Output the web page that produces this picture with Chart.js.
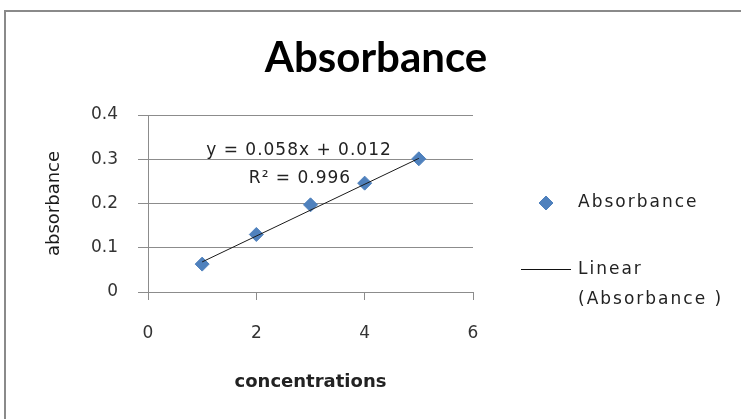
<!DOCTYPE html>
<html><head><meta charset="utf-8">
<script src="https://cdn.jsdelivr.net/npm/chart.js@4"></script>
<style>html,body{margin:0;padding:0;background:#fff}#wrap{width:741px;height:419px}</style>
</head><body><div id="wrap"><canvas id="c" width="741" height="419"></canvas></div>
<script>
const concentrations = [1, 2, 3, 4, 5];
const absorbance = [0.063, 0.130, 0.197, 0.246, 0.301];
const trendX = [1, 5];
const trendY = [0.068, 0.302];
const xTicks = [0, 2, 4, 6];
const yTicks = [0, 0.1, 0.2, 0.3, 0.4];
const chartTitle = 'Absorbance';
const xTitle = 'concentrations';
const yTitle = 'absorbance';
const seriesName = 'Absorbance';
const trendName = ['Linear', '(Absorbance )'];
const equationText = 'y = 0.058x + 0.012';
const rSquaredText = 'R\u00B2 = 0.996';

const GRID = '#8c8c8c';
const BLUE = '#4F81BD';

const decor = {
  id: 'decor',
  beforeDraw(chart) {
    const ctx = chart.ctx;
    ctx.save();
    ctx.strokeStyle = '#8a8a8a';
    ctx.lineWidth = 2;
    ctx.beginPath();
    ctx.moveTo(5, 430);
    ctx.lineTo(5, 11);
    ctx.lineTo(760, 11);
    ctx.stroke();
    ctx.restore();
  },
  afterDraw(chart) {
    const ctx = chart.ctx;
    const a = chart.chartArea;
    ctx.save();
    ctx.fillStyle = '#222';
    ctx.textBaseline = 'middle';
    try { ctx.letterSpacing = '1px'; } catch (e) {}
    // trendline equation
    ctx.font = '17px "DejaVu Sans"';
    ctx.textAlign = 'center';
    ctx.fillText(equationText, a.left + 151, a.top + 36);
    ctx.fillText(rSquaredText, a.left + 152, a.top + 64);
    // legend
    const lx = a.right;
    ctx.textAlign = 'left';
    try { ctx.letterSpacing = '2px'; } catch (e) {}
    ctx.font = '17px "DejaVu Sans"';
    ctx.fillStyle = BLUE;
    ctx.strokeStyle = BLUE;
    Chart.helpers.drawPoint(ctx, {pointStyle: 'rectRot', radius: 7, borderWidth: 1}, lx + 73, 203);
    ctx.fillStyle = '#222';
    ctx.fillText(seriesName, lx + 105, 203);
    ctx.strokeStyle = '#111';
    ctx.lineWidth = 1;
    ctx.beginPath();
    ctx.moveTo(lx + 48, 269.5);
    ctx.lineTo(lx + 98, 269.5);
    ctx.stroke();
    ctx.fillText(trendName[0], lx + 105, 270);
    ctx.fillText(trendName[1], lx + 105, 300);
    ctx.restore();
  }
};

const chart = new Chart(document.getElementById('c'), {
  data: {
    datasets: [
      {
        type: 'line',
        label: 'Linear (Absorbance )',
        data: trendX.map((x, i) => ({x: x, y: trendY[i]})),
        borderColor: '#1a1a1a',
        borderWidth: 1,
        pointRadius: 0,
        fill: false,
        order: 0
      },
      {
        type: 'scatter',
        label: seriesName,
        data: concentrations.map((x, i) => ({x: x, y: absorbance[i]})),
        pointStyle: 'rectRot',
        pointRadius: 7,
        backgroundColor: BLUE,
        borderColor: BLUE,
        borderWidth: 1,
        order: 1
      }
    ]
  },
  options: {
    responsive: false,
    devicePixelRatio: 1,
    animation: false,
    layout: {padding: {left: 11, right: 0, top: 0, bottom: 0}},
    plugins: {
      legend: {display: false},
      tooltip: {enabled: false},
      title: {
        display: true,
        text: chartTitle,
        color: '#000',
        font: {family: 'Lato', weight: 'bold', size: 42, lineHeight: 1.2},
        padding: {top: 33, bottom: 31.6}
      }
    },
    scales: {
      x: {
        type: 'linear',
        position: 'bottom',
        min: 0, max: 6,
        afterBuildTicks: s => { s.ticks = xTicks.map(v => ({value: v})); },
        afterFit: s => { s.height = 127; },
        grid: {drawOnChartArea: false, drawTicks: true, tickLength: 8, color: GRID},
        border: {color: GRID, width: 1},
        ticks: {color: '#333', font: {family: 'DejaVu Sans', size: 17}, padding: 23},
        title: {
          display: true, text: xTitle, color: '#222',
          font: {family: 'DejaVu Sans', weight: 'bold', size: 18},
          padding: {top: 0, bottom: 26}
        }
      },
      y: {
        type: 'linear',
        position: 'left',
        min: 0, max: 0.4,
        afterBuildTicks: s => { s.ticks = yTicks.map(v => ({value: v})); },
        afterFit: s => { s.width = 137; },
        grid: {drawTicks: true, tickLength: 10, color: GRID},
        border: {color: GRID, width: 1},
        ticks: {color: '#333', font: {family: 'DejaVu Sans', size: 17}, padding: 20,
          callback: v => String(Math.round(v * 10) / 10)},
        title: {
          display: true, text: yTitle, color: '#1a1a1a',
          font: {family: 'DejaVu Sans', size: 18},
          padding: {top: 33, bottom: 0}
        }
      },
      side: {
        type: 'linear',
        position: 'right',
        display: true,
        grid: {display: false},
        border: {display: false},
        ticks: {display: false},
        afterFit: s => { s.width = 268; }
      }
    }
  },
  plugins: [decor]
});
</script>
</body></html>
